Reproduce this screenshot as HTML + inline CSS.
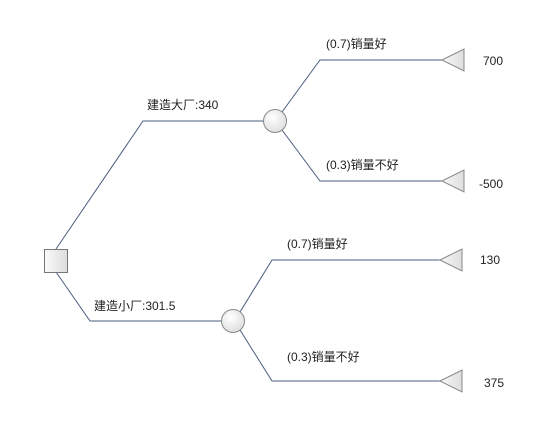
<!DOCTYPE html>
<html><head><meta charset="utf-8"><style>
html,body{margin:0;padding:0;background:#fff;}
svg text{font-family:"Liberation Sans","Noto Sans CJK SC",sans-serif;font-size:12px;fill:#222;}
</style></head><body>
<svg width="542" height="423" viewBox="0 0 542 423" xmlns="http://www.w3.org/2000/svg">
<defs>
<radialGradient id="g" cx="40%" cy="35%" r="70%"><stop offset="0" stop-color="#fff"/><stop offset="1" stop-color="#ddd"/></radialGradient>
<linearGradient id="t" x1="0" x2="1"><stop offset="0" stop-color="#fafafa"/><stop offset="1" stop-color="#ddd"/></linearGradient>
</defs>
<g stroke="#4a5d7e" stroke-width="1" fill="none">
<polyline points="56,249 143,121 264,121"/>
<polyline points="282,112 320,60 442,60"/>
<polyline points="282,130 320,181 442,181"/>
<polyline points="56,272 90,321 222,321"/>
<polyline points="240,312 272,260 440,260"/>
<polyline points="240,330 272,381 440,381"/>
</g>
<rect x="44.5" y="249.5" width="23" height="23" fill="url(#t)" stroke="#777"/>
<circle cx="275" cy="121" r="11.5" fill="url(#g)" stroke="#888"/>
<circle cx="233" cy="321" r="11.5" fill="url(#g)" stroke="#888"/>
<g fill="url(#t)" stroke="#888">
<polygon points="442,60 464,49 464,71"/>
<polygon points="442,181 464,170 464,192"/>
<polygon points="440,260 462,249 462,271"/>
<polygon points="440,381 462,370 462,392"/>
</g>
<text x="147" y="109">建造大厂:340</text>
<text x="94" y="310">建造小厂:301.5</text>
<text x="326" y="48">(0.7)销量好</text>
<text x="326" y="169">(0.3)销量不好</text>
<text x="287" y="248">(0.7)销量好</text>
<text x="287" y="361">(0.3)销量不好</text>
<text x="483" y="65" font-size="11">700</text>
<text x="479" y="188" font-size="11">-500</text>
<text x="480" y="264" font-size="11">130</text>
<text x="484" y="387" font-size="11">375</text>
</svg>
</body></html>
